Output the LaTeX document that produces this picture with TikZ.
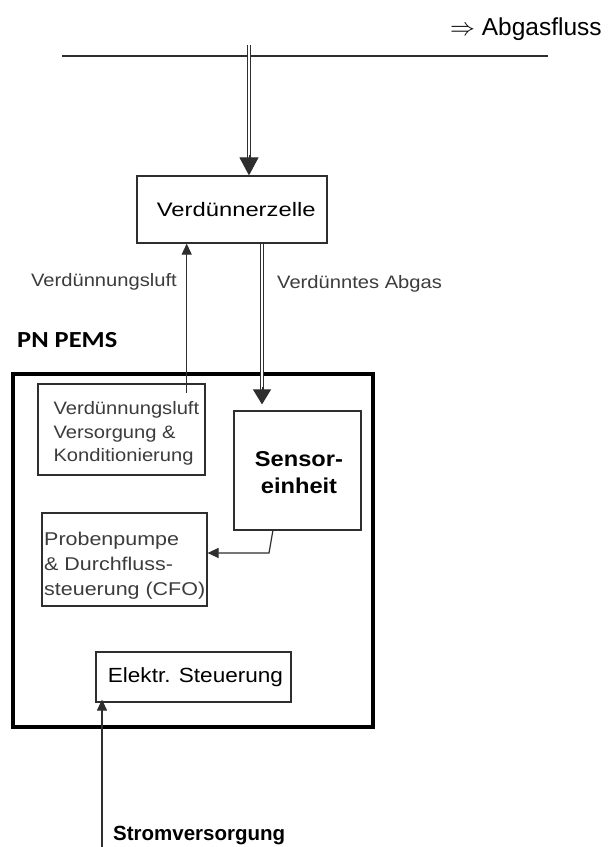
\documentclass[tikz,border=0pt]{standalone}
\usepackage{fontspec}
\setmainfont{Liberation Sans}
\newfontfamily\sA[FakeStretch=1.12]{Liberation Sans}
\newfontfamily\sB[FakeStretch=1.16]{Liberation Sans}
\newfontfamily\sC[FakeStretch=1.1]{Liberation Sans}
\newfontfamily\sD[FakeStretch=1.22]{Liberation Sans}
\newfontfamily\pnfont[FakeStretch=1.15]{Carlito}
\usetikzlibrary{arrows.meta}
\definecolor{ink}{HTML}{2E2E2E}
\definecolor{graytext}{HTML}{3C3C3C}
\begin{document}
\begin{tikzpicture}[x=1pt,y=-1pt,
  box/.style={draw=ink,line width=1.2pt,inner sep=0pt},
  dbl/.style={draw=ink,line width=1.1pt,double=white,double distance=2.4pt},
  thinarrow/.style={draw=ink,line width=1.2pt,-{Triangle[width=10pt,length=11pt]}},
  lbl/.style={inner sep=0pt,text=graytext}]
\fill[white] (0,0) rectangle (611,847);
\useasboundingbox (0,0) rectangle (611,847);

% top exhaust line
\coordinate (l1) at (62,56);
\coordinate (l2) at (548,56);
\draw[ink,line width=1.3pt] (l1) -- (l2);
\node[anchor=base west,inner sep=0pt,font=\fontsize{24.5}{28}\selectfont] (abg) at (450,35) {$\Rightarrow$ Abgasfluss};

% boxes
\node[box,minimum width=190pt,minimum height=67pt] (vz) at (232,209.5) {};
\node[draw=black,line width=3.5pt,inner sep=0pt,minimum width=360pt,minimum height=353pt] (pems) at (193,550.5) {};
\node[box,minimum width=167pt,minimum height=91pt] (vl) at (121.5,429.5) {};
\node[box,minimum width=127pt,minimum height=119pt] (se) at (297.5,470.5) {};
\node[box,minimum width=165pt,minimum height=93pt] (pp) at (124.5,559.5) {};
\node[box,minimum width=195pt,minimum height=50pt] (elk) at (193.5,677) {};

% texts
\node[anchor=base west,inner sep=0pt,font=\sD\fontsize{19.5}{24}\selectfont] (vzt) at (156.7,216.7) {Verdünnerzelle};
\node[lbl,anchor=base east,font=\sA\fontsize{18}{22}\selectfont] (vll) at (177,286.7) {Verdünnungsluft};
\node[lbl,anchor=base west,font=\sA\fontsize{18}{22}\selectfont] (vat) at (277,288.3) {Verdünntes Abgas};
\node[anchor=base west,inner sep=0pt,font=\pnfont\bfseries\fontsize{23}{28}\selectfont] (pnl) at (17,347) {PN PEMS};
\node[lbl,anchor=north west,align=left,font=\sA\fontsize{18}{23.3}\selectfont] (vlt) at (53.3,401.7) {Verdünnungsluft\\Versorgung \&\\Konditionierung};
\node[inner sep=0pt,anchor=north,align=center,font=\sC\bfseries\fontsize{21.5}{27}\selectfont] (set) at (299,451.5) {Sensor-\\einheit};
\node[lbl,anchor=north west,align=left,font=\sB\fontsize{18.5}{25}\selectfont] (ppt) at (44,531.7) {Probenpumpe\\\& Durchfluss-\\steuerung (CFO)};
\node[anchor=base west,inner sep=0pt,font=\sC\fontsize{20.5}{24}\selectfont] (elkt) at (107.7,682.7) {Elektr. Steuerung};
\node[anchor=base west,inner sep=0pt,font=\bfseries\fontsize{20.5}{24}\selectfont] (strt) at (113,840) {Stromversorgung};

% connectors
\coordinate (src) at (249,45);
\draw[dbl] (src) -- ([yshift=17pt]vz.north -| src);
\draw[draw=ink,line width=1pt,-{Triangle[width=19pt,length=18pt]}] ([yshift=20pt]vz.north -| src) -- (vz.north -| src);

\coordinate (dx) at (262,300);
\draw[dbl] (vz.south -| dx) -- ([yshift=20pt]se.north -| dx);
\draw[draw=ink,line width=1pt,-{Triangle[width=18pt,length=15pt]}] ([yshift=23pt]se.north -| dx) -- ([yshift=6pt]se.north -| dx);

\coordinate (v1) at (186.7,393);
\draw[thinarrow] (v1) -- (vz.south -| v1);

\coordinate (s1) at (273,530);
\coordinate (s2) at (269,553);
\draw[thinarrow] (s1) -- (s2) -- (pp.east |- s2);

\coordinate (st) at (102,847);
\draw[thinarrow] (st) -- ([yshift=3pt]elk.south -| st);
\end{tikzpicture}
\end{document}
